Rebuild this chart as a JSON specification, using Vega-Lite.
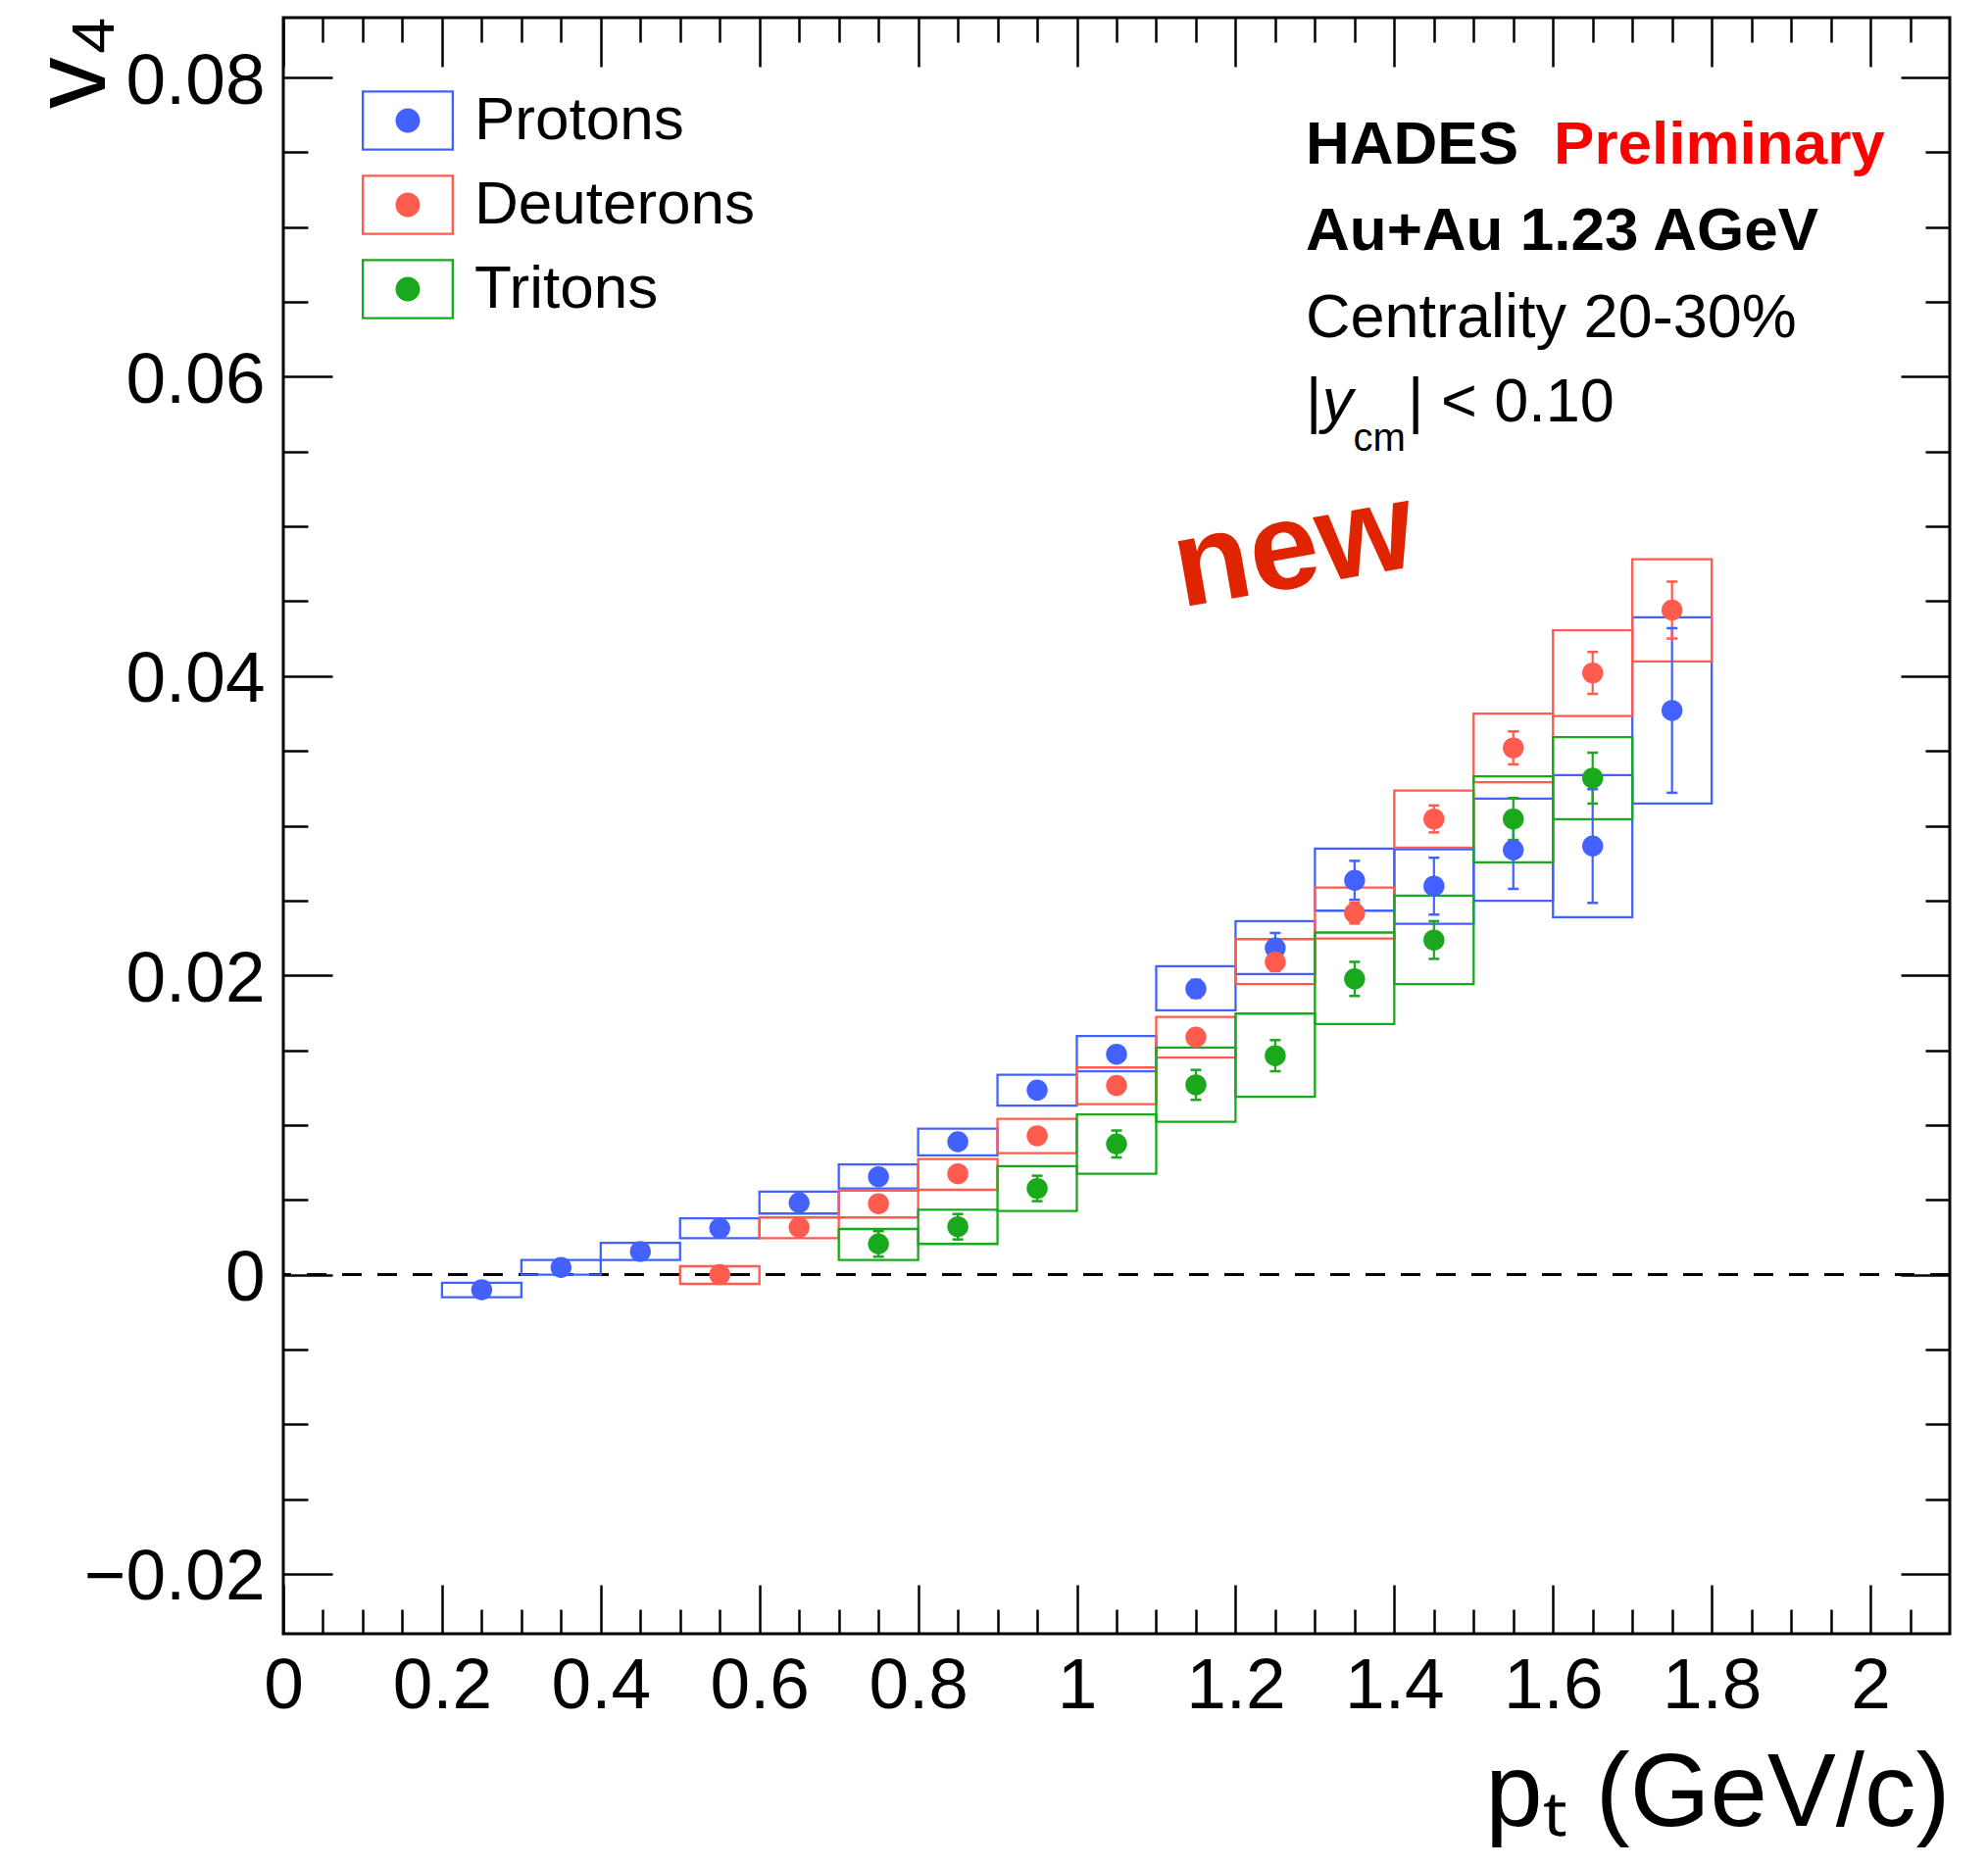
{
  "$schema": "https://vega.github.io/schema/vega-lite/v6.json",
  "width": 1700,
  "height": 1649,
  "autosize": {"type": "none"},
  "padding": {"left": 289, "top": 18, "right": 39, "bottom": 238},
  "background": "white",
  "config": {
    "view": {"stroke": "black", "strokeWidth": 3},
    "font": "Liberation Sans",
    "axis": {"grid": false, "domain": false, "tickColor": "black", "tickWidth": 2.5, "labelColor": "black", "labelFont": "Liberation Sans", "labelFontSize": 73, "labelLimit": 1000, "titleColor": "black", "titleFont": "Liberation Sans", "titleFontWeight": "normal", "labelFlush": false, "labelOverlap": false}
  },
  "datasets": {
    "v4": [
      {"particle": "Protons", "ptLo": 0.2, "ptHi": 0.3, "pt": 0.25, "v4": -0.00101, "statLo": -0.00131, "statHi": -0.00071, "sysLo": -0.00151, "sysHi": -0.00055},
      {"particle": "Protons", "ptLo": 0.3, "ptHi": 0.4, "pt": 0.35, "v4": 0.00048, "statLo": 0.00018, "statHi": 0.00078, "sysLo": 0.0, "sysHi": 0.00098},
      {"particle": "Protons", "ptLo": 0.4, "ptHi": 0.5, "pt": 0.45, "v4": 0.00155, "statLo": 0.00125, "statHi": 0.00185, "sysLo": 0.00098, "sysHi": 0.00212},
      {"particle": "Protons", "ptLo": 0.5, "ptHi": 0.6, "pt": 0.55, "v4": 0.0031, "statLo": 0.0028, "statHi": 0.0034, "sysLo": 0.00244, "sysHi": 0.00376},
      {"particle": "Protons", "ptLo": 0.6, "ptHi": 0.7, "pt": 0.65, "v4": 0.0048, "statLo": 0.0045, "statHi": 0.0051, "sysLo": 0.00408, "sysHi": 0.00554},
      {"particle": "Protons", "ptLo": 0.7, "ptHi": 0.8, "pt": 0.75, "v4": 0.00654, "statLo": 0.00624, "statHi": 0.00684, "sysLo": 0.00576, "sysHi": 0.00736},
      {"particle": "Protons", "ptLo": 0.8, "ptHi": 0.9, "pt": 0.85, "v4": 0.00888, "statLo": 0.00858, "statHi": 0.00918, "sysLo": 0.00797, "sysHi": 0.00975},
      {"particle": "Protons", "ptLo": 0.9, "ptHi": 1.0, "pt": 0.95, "v4": 0.01233, "statLo": 0.01193, "statHi": 0.01273, "sysLo": 0.01129, "sysHi": 0.01336},
      {"particle": "Protons", "ptLo": 1.0, "ptHi": 1.1, "pt": 1.05, "v4": 0.01473, "statLo": 0.01423, "statHi": 0.01523, "sysLo": 0.01358, "sysHi": 0.01594},
      {"particle": "Protons", "ptLo": 1.1, "ptHi": 1.2, "pt": 1.15, "v4": 0.0191, "statLo": 0.0185, "statHi": 0.0197, "sysLo": 0.01766, "sysHi": 0.02061},
      {"particle": "Protons", "ptLo": 1.2, "ptHi": 1.3, "pt": 1.25, "v4": 0.02183, "statLo": 0.02083, "statHi": 0.02283, "sysLo": 0.02009, "sysHi": 0.02362},
      {"particle": "Protons", "ptLo": 1.3, "ptHi": 1.4, "pt": 1.35, "v4": 0.02635, "statLo": 0.02505, "statHi": 0.02765, "sysLo": 0.02432, "sysHi": 0.02847},
      {"particle": "Protons", "ptLo": 1.4, "ptHi": 1.5, "pt": 1.45, "v4": 0.02596, "statLo": 0.02406, "statHi": 0.02786, "sysLo": 0.02344, "sysHi": 0.02842},
      {"particle": "Protons", "ptLo": 1.5, "ptHi": 1.6, "pt": 1.55, "v4": 0.02838, "statLo": 0.02578, "statHi": 0.03098, "sysLo": 0.02498, "sysHi": 0.03181},
      {"particle": "Protons", "ptLo": 1.6, "ptHi": 1.7, "pt": 1.65, "v4": 0.02864, "statLo": 0.02484, "statHi": 0.03244, "sysLo": 0.02388, "sysHi": 0.03338},
      {"particle": "Protons", "ptLo": 1.7, "ptHi": 1.8, "pt": 1.75, "v4": 0.0377, "statLo": 0.0322, "statHi": 0.0432, "sysLo": 0.03148, "sysHi": 0.04393},
      {"particle": "Deuterons", "ptLo": 0.5, "ptHi": 0.6, "pt": 0.55, "v4": 0.0, "statLo": -0.0003, "statHi": 0.0003, "sysLo": -0.00062, "sysHi": 0.00056},
      {"particle": "Deuterons", "ptLo": 0.6, "ptHi": 0.7, "pt": 0.65, "v4": 0.00316, "statLo": 0.00286, "statHi": 0.00346, "sysLo": 0.00244, "sysHi": 0.00382},
      {"particle": "Deuterons", "ptLo": 0.7, "ptHi": 0.8, "pt": 0.75, "v4": 0.00474, "statLo": 0.00444, "statHi": 0.00504, "sysLo": 0.00382, "sysHi": 0.00561},
      {"particle": "Deuterons", "ptLo": 0.8, "ptHi": 0.9, "pt": 0.85, "v4": 0.00674, "statLo": 0.00644, "statHi": 0.00704, "sysLo": 0.00567, "sysHi": 0.00772},
      {"particle": "Deuterons", "ptLo": 0.9, "ptHi": 1.0, "pt": 0.95, "v4": 0.00928, "statLo": 0.00888, "statHi": 0.00968, "sysLo": 0.00812, "sysHi": 0.01041},
      {"particle": "Deuterons", "ptLo": 1.0, "ptHi": 1.1, "pt": 1.05, "v4": 0.01264, "statLo": 0.01224, "statHi": 0.01304, "sysLo": 0.01139, "sysHi": 0.01384},
      {"particle": "Deuterons", "ptLo": 1.1, "ptHi": 1.2, "pt": 1.15, "v4": 0.01587, "statLo": 0.01537, "statHi": 0.01637, "sysLo": 0.0145, "sysHi": 0.01722},
      {"particle": "Deuterons", "ptLo": 1.2, "ptHi": 1.3, "pt": 1.25, "v4": 0.02089, "statLo": 0.02029, "statHi": 0.02149, "sysLo": 0.01941, "sysHi": 0.02242},
      {"particle": "Deuterons", "ptLo": 1.3, "ptHi": 1.4, "pt": 1.35, "v4": 0.02416, "statLo": 0.02346, "statHi": 0.02486, "sysLo": 0.02246, "sysHi": 0.02587},
      {"particle": "Deuterons", "ptLo": 1.4, "ptHi": 1.5, "pt": 1.45, "v4": 0.03045, "statLo": 0.02955, "statHi": 0.03135, "sysLo": 0.02853, "sysHi": 0.03235},
      {"particle": "Deuterons", "ptLo": 1.5, "ptHi": 1.6, "pt": 1.55, "v4": 0.0352, "statLo": 0.0341, "statHi": 0.0363, "sysLo": 0.0329, "sysHi": 0.03749},
      {"particle": "Deuterons", "ptLo": 1.6, "ptHi": 1.7, "pt": 1.65, "v4": 0.04021, "statLo": 0.03881, "statHi": 0.04161, "sysLo": 0.03733, "sysHi": 0.04306},
      {"particle": "Deuterons", "ptLo": 1.7, "ptHi": 1.8, "pt": 1.75, "v4": 0.04441, "statLo": 0.04251, "statHi": 0.04631, "sysLo": 0.04098, "sysHi": 0.04781},
      {"particle": "Tritons", "ptLo": 0.7, "ptHi": 0.8, "pt": 0.75, "v4": 0.00205, "statLo": 0.0012, "statHi": 0.0029, "sysLo": 0.00098, "sysHi": 0.00305},
      {"particle": "Tritons", "ptLo": 0.8, "ptHi": 0.9, "pt": 0.85, "v4": 0.0032, "statLo": 0.00235, "statHi": 0.00405, "sysLo": 0.00205, "sysHi": 0.00434},
      {"particle": "Tritons", "ptLo": 0.9, "ptHi": 1.0, "pt": 0.95, "v4": 0.00576, "statLo": 0.00491, "statHi": 0.00661, "sysLo": 0.00425, "sysHi": 0.00725},
      {"particle": "Tritons", "ptLo": 1.0, "ptHi": 1.1, "pt": 1.05, "v4": 0.00873, "statLo": 0.00783, "statHi": 0.00963, "sysLo": 0.00674, "sysHi": 0.0107},
      {"particle": "Tritons", "ptLo": 1.1, "ptHi": 1.2, "pt": 1.15, "v4": 0.01268, "statLo": 0.01168, "statHi": 0.01368, "sysLo": 0.01021, "sysHi": 0.01517},
      {"particle": "Tritons", "ptLo": 1.2, "ptHi": 1.3, "pt": 1.25, "v4": 0.01463, "statLo": 0.01359, "statHi": 0.01567, "sysLo": 0.01188, "sysHi": 0.01744},
      {"particle": "Tritons", "ptLo": 1.3, "ptHi": 1.4, "pt": 1.35, "v4": 0.01976, "statLo": 0.01862, "statHi": 0.0209, "sysLo": 0.01674, "sysHi": 0.02286},
      {"particle": "Tritons", "ptLo": 1.4, "ptHi": 1.5, "pt": 1.45, "v4": 0.02236, "statLo": 0.0211, "statHi": 0.02362, "sysLo": 0.01941, "sysHi": 0.02532},
      {"particle": "Tritons", "ptLo": 1.5, "ptHi": 1.6, "pt": 1.55, "v4": 0.03045, "statLo": 0.02905, "statHi": 0.03185, "sysLo": 0.02755, "sysHi": 0.0333},
      {"particle": "Tritons", "ptLo": 1.6, "ptHi": 1.7, "pt": 1.65, "v4": 0.03318, "statLo": 0.03148, "statHi": 0.03488, "sysLo": 0.03043, "sysHi": 0.03592}
    ]
  },
  "layer": [
    {
      "data": {"values": [{"z": 0}]},
      "mark": {"type": "rule", "color": "black", "strokeWidth": 3, "strokeDash": [20, 16]},
      "encoding": {
        "y": {"field": "z", "type": "quantitative", "axis": null, "scale": {"domain": [-0.024, 0.084], "nice": false, "zero": false}}
      }
    },
    {
      "data": {"name": "v4"},
      "mark": {"type": "rect", "filled": false, "strokeWidth": 2.3},
      "encoding": {
        "x": {"field": "ptLo", "type": "quantitative", "scale": {"domain": [0, 2.1], "nice": false, "zero": false},
          "axis": {"orient": "bottom", "values": [0, 0.2, 0.4, 0.6, 0.8, 1, 1.2, 1.4, 1.6, 1.8, 2], "format": "~g", "tickSize": -50, "labelPadding": 67, "labelFontSize": 73, "title": "pₜ (GeV/c)", "titleFontSize": 105, "titleAnchor": "end", "titleAlign": "right", "titleBaseline": "alphabetic", "titleX": 1700, "titleY": 195}},
        "x2": {"field": "ptHi"},
        "y": {"field": "sysLo", "type": "quantitative", "scale": {"domain": [-0.024, 0.084], "nice": false, "zero": false},
          "axis": {"orient": "left", "values": [-0.02, 0, 0.02, 0.04, 0.06, 0.08], "format": "~g", "tickSize": -50, "labelPadding": 69, "labelFontSize": 73, "labelBaseline": "middle", "labelOffset": 4, "title": "v₄", "titleFontSize": 105, "titleAngle": -90, "titleAnchor": "end", "titleAlign": "right", "titleBaseline": "alphabetic", "titleX": -183, "titleY": -3}},
        "y2": {"field": "sysHi"},
        "stroke": {"field": "particle", "type": "nominal",
          "scale": {"domain": ["Protons", "Deuterons", "Tritons"], "range": ["#4361ff", "#ff5b4e", "#1aa81c"]},
          "legend": null}
      }
    },
    {
      "data": {"name": "v4"},
      "mark": {"type": "rule", "strokeWidth": 2.2},
      "encoding": {
        "x": {"field": "pt", "type": "quantitative", "scale": {"domain": [0, 2.1], "nice": false, "zero": false},
          "axis": {"orient": "bottom", "values": [0.05, 0.1, 0.15, 0.25, 0.3, 0.35, 0.45, 0.5, 0.55, 0.65, 0.7, 0.75, 0.85, 0.9, 0.95, 1.05, 1.1, 1.15, 1.25, 1.3, 1.35, 1.45, 1.5, 1.55, 1.65, 1.7, 1.75, 1.85, 1.9, 1.95, 2.05], "tickSize": -25, "labels": false, "title": null}},
        "y": {"field": "statLo", "type": "quantitative", "scale": {"domain": [-0.024, 0.084], "nice": false, "zero": false},
          "axis": {"orient": "left", "values": [-0.015, -0.01, -0.005, 0.005, 0.01, 0.015, 0.025, 0.03, 0.035, 0.045, 0.05, 0.055, 0.065, 0.07, 0.075], "tickSize": -25, "labels": false, "title": null}},
        "y2": {"field": "statHi"},
        "color": {"field": "particle", "type": "nominal", "scale": {"domain": ["Protons", "Deuterons", "Tritons"], "range": ["#4361ff", "#ff5b4e", "#1aa81c"]}, "legend": null}
      }
    },
    {
      "data": {"name": "v4"},
      "mark": {"type": "tick", "orient": "horizontal", "size": 11, "thickness": 2.5, "opacity": 1},
      "encoding": {
        "x": {"field": "pt", "type": "quantitative", "scale": {"domain": [0, 2.1], "nice": false, "zero": false},
          "axis": {"orient": "top", "values": [0, 0.2, 0.4, 0.6, 0.8, 1, 1.2, 1.4, 1.6, 1.8, 2], "tickSize": -50, "labels": false, "title": null}},
        "y": {"field": "statHi", "type": "quantitative", "scale": {"domain": [-0.024, 0.084], "nice": false, "zero": false},
          "axis": {"orient": "right", "values": [-0.02, 0, 0.02, 0.04, 0.06, 0.08], "tickSize": -50, "labels": false, "title": null}},
        "color": {"field": "particle", "type": "nominal", "scale": {"domain": ["Protons", "Deuterons", "Tritons"], "range": ["#4361ff", "#ff5b4e", "#1aa81c"]}, "legend": null}
      }
    },
    {
      "data": {"name": "v4"},
      "mark": {"type": "tick", "orient": "horizontal", "size": 11, "thickness": 2.5, "opacity": 1},
      "encoding": {
        "x": {"field": "pt", "type": "quantitative", "scale": {"domain": [0, 2.1], "nice": false, "zero": false},
          "axis": {"orient": "top", "values": [0.05, 0.1, 0.15, 0.25, 0.3, 0.35, 0.45, 0.5, 0.55, 0.65, 0.7, 0.75, 0.85, 0.9, 0.95, 1.05, 1.1, 1.15, 1.25, 1.3, 1.35, 1.45, 1.5, 1.55, 1.65, 1.7, 1.75, 1.85, 1.9, 1.95, 2.05], "tickSize": -25, "labels": false, "title": null}},
        "y": {"field": "statLo", "type": "quantitative", "scale": {"domain": [-0.024, 0.084], "nice": false, "zero": false},
          "axis": {"orient": "right", "values": [-0.015, -0.01, -0.005, 0.005, 0.01, 0.015, 0.025, 0.03, 0.035, 0.045, 0.05, 0.055, 0.065, 0.07, 0.075], "tickSize": -25, "labels": false, "title": null}},
        "color": {"field": "particle", "type": "nominal", "scale": {"domain": ["Protons", "Deuterons", "Tritons"], "range": ["#4361ff", "#ff5b4e", "#1aa81c"]}, "legend": null}
      }
    },
    {
      "data": {"name": "v4"},
      "mark": {"type": "point", "filled": true, "shape": "circle", "size": 460, "opacity": 1},
      "encoding": {
        "x": {"field": "pt", "type": "quantitative", "axis": null, "scale": {"domain": [0, 2.1], "nice": false, "zero": false}},
        "y": {"field": "v4", "type": "quantitative", "axis": null, "scale": {"domain": [-0.024, 0.084], "nice": false, "zero": false}},
        "fill": {"field": "particle", "type": "nominal", "sort": ["Protons", "Deuterons", "Tritons"],
          "scale": {"range": ["#4361ff", "#ff5b4e", "#1aa81c"]},
          "legend": {"orient": "none", "legendX": 80, "legendY": 58, "direction": "vertical", "title": null,
            "symbolType": "M-1,-0.656H1V0.656H-1ZM-0.951,-0.607V0.607H0.951V-0.607ZM-0.266,0A0.266,0.266,0,1,0,0.266,0A0.266,0.266,0,1,0,-0.266,0Z",
            "symbolSize": 8836, "symbolStrokeWidth": 0, "symbolStrokeColor": "transparent", "labelFont": "Liberation Sans", "labelFontSize": 62, "labelColor": "black", "labelOffset": 21, "labelLimit": 1000, "rowPadding": 8,
            "encode": {"symbols": {"update": {"stroke": {"value": "transparent"}, "strokeWidth": {"value": 0}, "opacity": {"value": 1}}}}}}
      }
    },
    {
      "data": {"values": [{"t": "HADES"}]},
      "mark": {"type": "text", "align": "left", "baseline": "alphabetic", "font": "Liberation Sans", "fontSize": 62, "fontWeight": "bold", "color": "black"},
      "encoding": {"x": {"datum": 1.2884, "type": "quantitative", "axis": null}, "y": {"datum": 0.07421, "type": "quantitative", "axis": null}, "text": {"field": "t"}}
    },
    {
      "data": {"values": [{"t": "Preliminary"}]},
      "mark": {"type": "text", "align": "left", "baseline": "alphabetic", "font": "Liberation Sans", "fontSize": 62, "fontWeight": "bold", "color": "#ff0000"},
      "encoding": {"x": {"datum": 1.601, "type": "quantitative", "axis": null}, "y": {"datum": 0.07421, "type": "quantitative", "axis": null}, "text": {"field": "t"}}
    },
    {
      "data": {"values": [{"t": "Au+Au 1.23 AGeV"}]},
      "mark": {"type": "text", "align": "left", "baseline": "alphabetic", "font": "Liberation Sans", "fontSize": 62, "fontWeight": "bold", "color": "black"},
      "encoding": {"x": {"datum": 1.2884, "type": "quantitative", "axis": null}, "y": {"datum": 0.06848, "type": "quantitative", "axis": null}, "text": {"field": "t"}}
    },
    {
      "data": {"values": [{"t": "Centrality 20-30%"}]},
      "mark": {"type": "text", "align": "left", "baseline": "alphabetic", "font": "Liberation Sans", "fontSize": 63, "color": "black"},
      "encoding": {"x": {"datum": 1.2884, "type": "quantitative", "axis": null}, "y": {"datum": 0.06265, "type": "quantitative", "axis": null}, "text": {"field": "t"}}
    },
    {
      "data": {"values": [{"t": "|"}]},
      "mark": {"type": "text", "align": "left", "baseline": "alphabetic", "font": "Liberation Sans", "fontSize": 63, "color": "black"},
      "encoding": {"x": {"datum": 1.2884, "type": "quantitative", "axis": null}, "y": {"datum": 0.05702, "type": "quantitative", "axis": null}, "text": {"field": "t"}}
    },
    {
      "data": {"values": [{"t": "y"}]},
      "mark": {"type": "text", "align": "left", "baseline": "alphabetic", "font": "Liberation Sans", "fontSize": 63, "fontStyle": "italic", "color": "black"},
      "encoding": {"x": {"datum": 1.3092, "type": "quantitative", "axis": null}, "y": {"datum": 0.05702, "type": "quantitative", "axis": null}, "text": {"field": "t"}}
    },
    {
      "data": {"values": [{"t": "cm"}]},
      "mark": {"type": "text", "align": "left", "baseline": "alphabetic", "font": "Liberation Sans", "fontSize": 40, "color": "black"},
      "encoding": {"x": {"datum": 1.3482, "type": "quantitative", "axis": null}, "y": {"datum": 0.05505, "type": "quantitative", "axis": null}, "text": {"field": "t"}}
    },
    {
      "data": {"values": [{"t": "| < 0.10"}]},
      "mark": {"type": "text", "align": "left", "baseline": "alphabetic", "font": "Liberation Sans", "fontSize": 63, "color": "black"},
      "encoding": {"x": {"datum": 1.4169, "type": "quantitative", "axis": null}, "y": {"datum": 0.05702, "type": "quantitative", "axis": null}, "text": {"field": "t"}}
    },
    {
      "data": {"values": [{"t": "new"}]},
      "mark": {"type": "text", "align": "center", "baseline": "middle", "font": "Liberation Sans", "fontSize": 127, "fontWeight": "bold", "angle": -10, "color": "#e02400"},
      "encoding": {"x": {"datum": 1.2736, "type": "quantitative", "axis": null}, "y": {"datum": 0.04844, "type": "quantitative", "axis": null}, "text": {"field": "t"}}
    }
  ],
  "resolve": {"axis": {"x": "independent", "y": "independent"}}
}
